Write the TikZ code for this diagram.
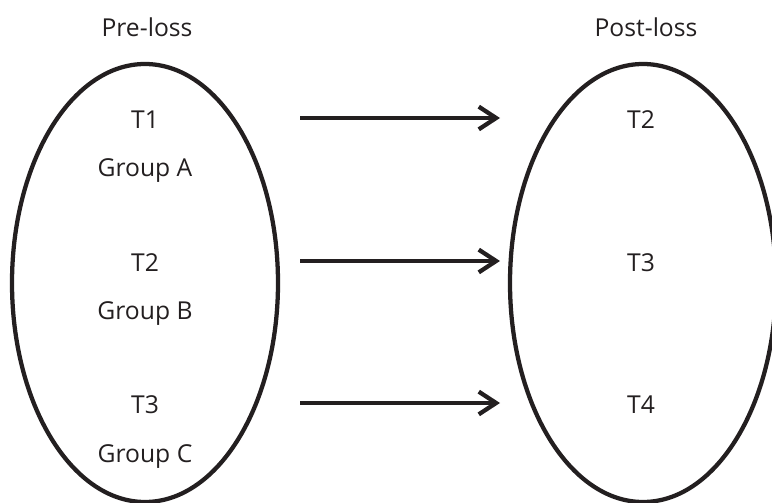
\documentclass[tikz,border=0pt]{standalone}
\usepackage{fontspec}
\setmainfont{Open Sans}
\usetikzlibrary{arrows.meta,shapes.geometric}
\definecolor{ink}{HTML}{231F20}
\begin{document}
\begin{tikzpicture}[x=0.75pt,y=-0.75pt,
  set/.style={draw=ink,line width=3.2pt,ellipse,inner sep=0pt,outer sep=0pt,
    minimum width=199.5pt,minimum height=328.5pt},
  lbl/.style={text=ink,font=\fontsize{18.5}{18.5}\selectfont,anchor=base,inner sep=0pt},
  flow/.style={draw=ink,line width=3.2pt,
    -{Straight Barb[length=13pt,width=17pt,line width=3.2pt]}}]
  \useasboundingbox (0,0) rectangle (772,503);
  % the two sets
  \node[set] (pre) at (145,283) {};
  \node[set] (post) at (643,283) {};
  % headings
  \node[lbl] (preh) at (147,37) {Pre-loss};
  \node[lbl] (posth) at (646,37) {Post-loss};
  % members before the loss
  \node[lbl] (l1) at (145,128) {T1};
  \node[lbl] (ga) at (145,176) {Group A};
  \node[lbl] (l2) at (145,271) {T2};
  \node[lbl] (gb) at (145,319) {Group B};
  \node[lbl] (l3) at (145,413) {T3};
  \node[lbl] (gc) at (145,462) {Group C};
  % members after the loss
  \node[lbl] (r2) at (641,128) {T2};
  \node[lbl] (r3) at (641,271) {T3};
  \node[lbl] (r4) at (641,413) {T4};
  % transitions
  \coordinate (s1) at (300,118); \coordinate (e1) at (500,118);
  \coordinate (s2) at (300,261); \coordinate (e2) at (500,261);
  \coordinate (s3) at (300,403); \coordinate (e3) at (500,403);
  \draw[flow] (s1) -- (e1);
  \draw[flow] (s2) -- (e2);
  \draw[flow] (s3) -- (e3);
\end{tikzpicture}
\end{document}
